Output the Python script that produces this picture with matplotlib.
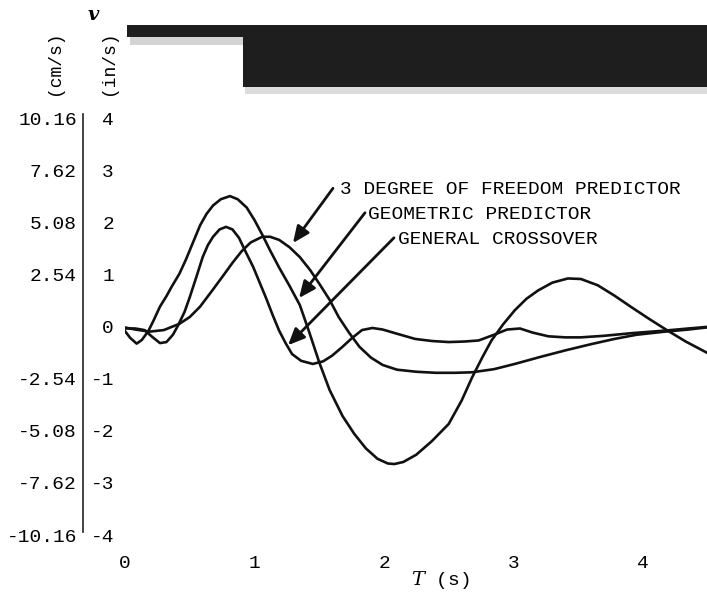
import matplotlib
matplotlib.use("Agg")
import matplotlib.pyplot as plt
from matplotlib.patches import Rectangle

plt.rcParams['mathtext.fontset'] = 'dejavuserif'

# ---------------- data ----------------
geo_t = [0.00, 0.04, 0.09, 0.13, 0.18, 0.22, 0.27, 0.32, 0.36, 0.42, 0.47, 0.53, 0.58,
         0.63, 0.68, 0.74, 0.81, 0.87, 0.94, 1.00, 1.06, 1.12, 1.19, 1.27, 1.35, 1.42,
         1.50, 1.58, 1.68, 1.77, 1.86, 1.95, 2.03, 2.08, 2.15, 2.25, 2.37, 2.50, 2.60,
         2.68, 2.76, 2.83, 2.92, 3.01, 3.10, 3.19, 3.30, 3.42, 3.52, 3.65, 3.78, 3.91,
         4.05, 4.19, 4.33, 4.49]
geo_v = [-0.05, -0.18, -0.29, -0.22, -0.05, 0.15, 0.42, 0.62, 0.80, 1.05, 1.32, 1.68, 1.98,
         2.20, 2.36, 2.48, 2.54, 2.48, 2.32, 2.08, 1.80, 1.50, 1.17, 0.82, 0.45, -0.05,
         -0.65, -1.18, -1.68, -2.02, -2.30, -2.50, -2.59, -2.60, -2.56, -2.42, -2.16, -1.83, -1.38,
         -0.94, -0.55, -0.23, 0.08, 0.35, 0.57, 0.73, 0.88, 0.96, 0.95, 0.83, 0.63, 0.41,
         0.18, -0.04, -0.25, -0.46]

dof_t = [0.00, 0.08, 0.19, 0.30, 0.42, 0.50, 0.58, 0.68, 0.76, 0.83, 0.90, 0.97, 1.06,
         1.12, 1.19, 1.27, 1.35, 1.43, 1.50, 1.58, 1.65, 1.73, 1.81, 1.90, 1.99, 2.10,
         2.25, 2.40, 2.55, 2.68, 2.85, 3.01, 3.20, 3.40, 3.60, 3.78, 3.95, 4.17, 4.35, 4.49]
dof_v = [0.02, -0.02, -0.06, -0.03, 0.09, 0.22, 0.42, 0.75, 1.02, 1.26, 1.48, 1.65, 1.76,
         1.76, 1.70, 1.56, 1.37, 1.12, 0.86, 0.55, 0.22, -0.08, -0.35, -0.56, -0.70, -0.79,
         -0.83, -0.85, -0.85, -0.84, -0.78, -0.68, -0.55, -0.42, -0.30, -0.20, -0.12, -0.06, -0.02, 0.02]

gen_t = [0.00, 0.08, 0.15, 0.21, 0.27, 0.32, 0.37, 0.41, 0.46, 0.50, 0.55, 0.60, 0.64,
         0.68, 0.73, 0.78, 0.83, 0.88, 0.93, 0.99, 1.04, 1.09, 1.14, 1.19, 1.24, 1.29,
         1.36, 1.45, 1.53, 1.60, 1.68, 1.75, 1.83, 1.91, 1.99, 2.10, 2.24, 2.37, 2.50,
         2.62, 2.73, 2.85, 2.95, 3.05, 3.15, 3.27, 3.40, 3.52, 3.70, 3.91, 4.17, 4.35, 4.49]
gen_v = [0.00, 0.00, -0.03, -0.16, -0.28, -0.26, -0.12, 0.06, 0.32, 0.60, 0.98, 1.37, 1.60,
         1.76, 1.90, 1.95, 1.90, 1.74, 1.48, 1.18, 0.88, 0.58, 0.26, -0.04, -0.28, -0.49,
         -0.62, -0.68, -0.63, -0.52, -0.35, -0.19, -0.03, 0.01, -0.02, -0.10, -0.20, -0.24, -0.26,
         -0.25, -0.23, -0.12, -0.02, 0.00, -0.08, -0.15, -0.17, -0.17, -0.14, -0.09, -0.04, 0.00, 0.03]

x_ticks = [0, 1, 2, 3, 4]
x_tick_labels = ["0", "1", "2", "3", "4"]
y_ticks = [4, 3, 2, 1, 0, -1, -2, -3, -4]
in_labels = ["4", "3", "2", "1", "0", "-1", "-2", "-3", "-4"]
cm_labels = ["10.16", "7.62", "5.08", "2.54", "", "-2.54", "-5.08", "-7.62", "-10.16"]

labels = ["3 DEGREE OF FREEDOM PREDICTOR", "GEOMETRIC PREDICTOR", "GENERAL CROSSOVER"]

# ---------------- figure ----------------
W, H = 707, 594
fig = plt.figure(figsize=(W / 100, H / 100), dpi=100)
ax = fig.add_axes([125 / W, 57 / H, (W - 125) / W, 417 / H])
ax.set_xlim(0, (W - 125) / 129.5)
ax.set_ylim(-4, 4)
for s in ax.spines.values():
    s.set_visible(False)
ax.set_yticks([])
ax.set_xticks(x_ticks)
ax.set_xticklabels(x_tick_labels, family='Liberation Mono', fontsize=14)
ax.tick_params(axis='x', length=0, pad=13)

FONT = 'Liberation Mono'
lw = 1.9
ax.plot(geo_t, geo_v, color='#111111', lw=lw, solid_joinstyle='round')
ax.plot(dof_t, dof_v, color='#111111', lw=lw, solid_joinstyle='round')
ax.plot(gen_t, gen_v, color='#111111', lw=lw, solid_joinstyle='round')

# vertical axis line between the two scales
ax.plot([-0.324, -0.324], [4.12, -3.9], color='#222222', lw=1.2, clip_on=False)

# y tick labels on both scales
for v, lin, lcm in zip(y_ticks, in_labels, cm_labels):
    ax.text(-0.085, v, lin, ha='right', va='center', family=FONT, fontsize=14,
            clip_on=False)
    if lcm:
        ax.text(-0.371, v, lcm, ha='right', va='center', family=FONT, fontsize=14,
                clip_on=False)

# annotations
arrows = [((1.606, 2.69), (1.297, 1.64)),
          ((1.853, 2.22), (1.344, 0.585)),
          ((2.077, 1.74), (1.259, -0.32))]
text_pos = [(1.66, 2.66), (1.876, 2.18), (2.108, 1.70)]
for (start, tip), (tx, ty), lab in zip(arrows, text_pos, labels):
    ax.annotate('', xy=tip, xytext=start,
                arrowprops=dict(arrowstyle='-|>,head_length=0.5,head_width=0.22',
                                color='#111111', lw=2.0,
                                mutation_scale=20, shrinkA=0, shrinkB=0))
    ax.text(tx, ty, lab, ha='left', va='center', family=FONT, fontsize=14)

# axis titles
fig.text(440 / W, 1 - 580 / H, r'$T$ (s)', ha='center', va='center',
         family=FONT, fontsize=14)
fig.text(93 / W, 1 - 15 / H, 'v', ha='center', va='center', family='DejaVu Serif',
         fontsize=14, fontweight='bold', style='italic')
fig.text(55 / W, 1 - 63 / H, '(cm/s)', ha='center', va='center', family=FONT,
         fontsize=13, rotation=90)
fig.text(108 / W, 1 - 63 / H, '(in/s)', ha='center', va='center', family=FONT,
         fontsize=13, rotation=90)


# header bar (dark band at the top)
def rect_px(x0, y0, x1, y1, color):
    fig.add_artist(Rectangle((x0 / W, 1 - y1 / H), (x1 - x0) / W, (y1 - y0) / H,
                             transform=fig.transFigure, facecolor=color,
                             edgecolor='none', lw=0))

rect_px(130, 37, 245, 45, '#d4d4d4')
rect_px(245, 87, 707, 94, '#dcdcdc')
rect_px(127, 25, 707, 37, '#1e1e1e')
rect_px(243, 37, 707, 87, '#1e1e1e')

fig.savefig('out.png', dpi=100)
